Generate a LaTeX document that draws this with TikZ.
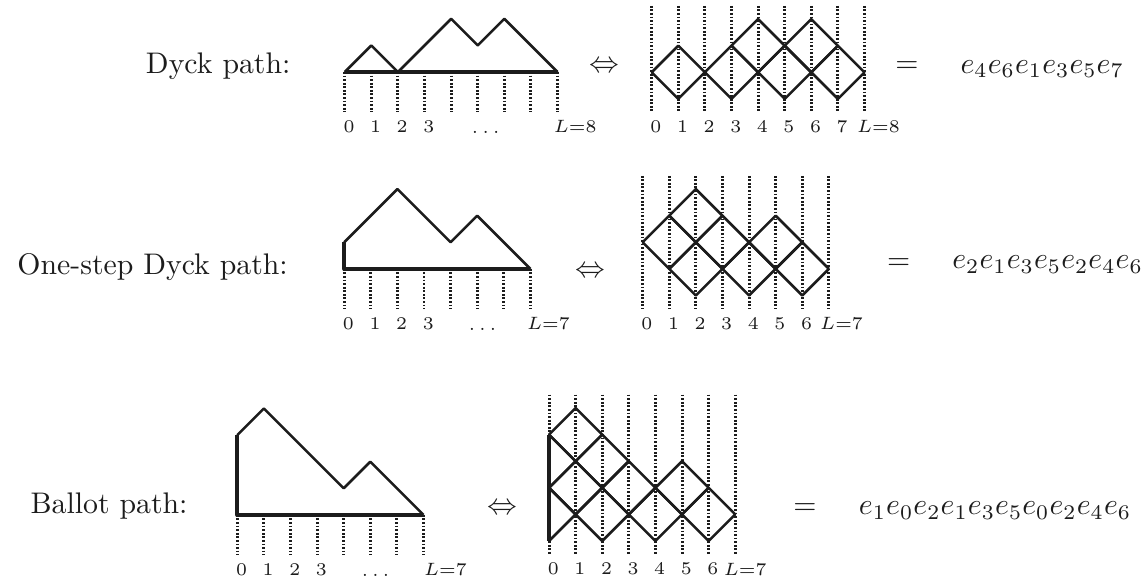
\documentclass[tikz,border=0pt]{standalone}
\usetikzlibrary{calc}
\newcommand{\Step}{8.93pt}
\newcommand{\Thin}{0.85pt}
\newcommand{\Thick}{1.3pt}
\definecolor{ink}{HTML}{1C1C1C}

\tikzset{
  walk/.style={ink,line width=\Thin},
  wall/.style={ink,line width=\Thick},
  tick/.style={ink,line width=1pt,line cap=butt,dash pattern=on 0.6pt off 0.6pt},
  site/.style={inner sep=0pt,text=ink,font=\fontsize{6}{7}\selectfont},
  caption/.style={inner sep=0pt,text=ink,anchor=base east},
  rel/.style={inner sep=0pt,text=ink,anchor=base},
  word/.style={inner sep=0pt,text=ink,anchor=base west},
}

\begin{document}
\begin{tikzpicture}[x=\Step,y=\Step, line join=round]
  \useasboundingbox (0,0) rectangle (43.008,21.729);

  % ---- row 1: Dyck path ---------------------------------------------------
  \node[caption] (dyck) at (10.94,18.97) {Dyck path:};
  \begin{scope}[shift={(12.96,19.02)}]
    \foreach \i in {0,...,8} \draw[tick] (\i,0) -- (\i,-1.5);
    \draw[walk] (0,0) -- (1,1) -- (2,0) -- (4,2) -- (5,1) -- (6,2) -- (8,0);
    \draw[wall] (0,0) -- (8,0);
    \foreach \i in {0,...,3} \node[site] (da\i) at (\i+0.16,-2.05) {$\i$};
    \node[site,anchor=base] (dadots) at (5.3,-2.3) {$\ldots$};
    \node[site,anchor=west] (daL) at (7.84,-2.05) {$L{=}8$};
  \end{scope}
  \node[rel] (iffa) at (22.71,19.0) {$\Leftrightarrow$};
  \begin{scope}[shift={(24.50,19.01)}]
    \foreach \i in {0,...,8} \draw[tick] (\i,2.5) -- (\i,-1.5);
    \foreach \c/\l in {1/0,3/0,5/0,7/0,4/1,6/1}
      \draw[walk] (\c-1,\l) -- (\c,\l+1) -- (\c+1,\l) -- (\c,\l-1) -- cycle;
    \foreach \i in {0,...,7} \node[site] (db\i) at (\i+0.16,-2.05) {$\i$};
    \node[site,anchor=west] (dbL) at (7.7,-2.05) {$L{=}8$};
  \end{scope}
  \node[rel] (eqa) at (34.10,19.0) {$=$};
  \node[word] (worda) at (36.09,18.97) {$e_4e_6e_1e_3e_5e_7$};

  % ---- row 2: one-step Dyck path ------------------------------------------
  \node[caption] (onestep) at (10.84,11.39) {One-step Dyck path:};
  \begin{scope}[shift={(12.94,11.62)}]
    \foreach \i in {0,...,7} \draw[tick] (\i,0) -- (\i,-1.5);
    \draw[walk] (0,1) -- (2,3) -- (4,1) -- (5,2) -- (7,0);
    \draw[wall] (0,1) -- (0,0) -- (7,0);
    \foreach \i in {0,...,3} \node[site] (oa\i) at (\i+0.16,-2.05) {$\i$};
    \node[site,anchor=base] (oadots) at (5.2,-2.3) {$\ldots$};
    \node[site,anchor=west] (oaL) at (6.85,-2.05) {$L{=}7$};
  \end{scope}
  \node[rel] (iffb) at (22.2,11.3) {$\Leftrightarrow$};
  \begin{scope}[shift={(24.16,11.62)}]
    \foreach \i in {0,...,7} \draw[tick] (\i,3.5) -- (\i,-1.5);
    \foreach \c/\l in {2/0,4/0,6/0,1/1,3/1,5/1,2/2}
      \draw[walk] (\c-1,\l) -- (\c,\l+1) -- (\c+1,\l) -- (\c,\l-1) -- cycle;
    \foreach \i in {0,...,6} \node[site] (ob\i) at (\i+0.16,-2.05) {$\i$};
    \node[site,anchor=west] (obL) at (6.65,-2.05) {$L{=}7$};
  \end{scope}
  \node[rel] (eqb) at (33.79,11.6) {$=$};
  \node[word] (wordb) at (35.78,11.63) {$e_2e_1e_3e_5e_2e_4e_6$};

  % ---- row 3: ballot path, with the wall at 0 -----------------------------
  \node[caption,anchor=base west] (ballot) at (1.13,2.43) {Ballot path:};
  \begin{scope}[shift={(8.92,2.37)}]
    \foreach \i in {0,...,7} \draw[tick] (\i,0) -- (\i,-1.5);
    \draw[walk] (0,3) -- (1,4) -- (4,1) -- (5,2) -- (7,0);
    \draw[wall] (0,3) -- (0,0) -- (7,0);
    \foreach \i in {0,...,3} \node[site] (ba\i) at (\i+0.16,-2.05) {$\i$};
    \node[site,anchor=base] (badots) at (5.2,-2.3) {$\ldots$};
    \node[site,anchor=west] (baL) at (7.0,-2.05) {$L{=}7$};
  \end{scope}
  \node[rel] (iffc) at (18.89,2.4) {$\Leftrightarrow$};
  \begin{scope}[shift={(20.64,2.39)}]
    \foreach \i in {0,...,7} \draw[tick] (\i,4.5) -- (\i,-1.5);
    \foreach \c/\l in {2/0,4/0,6/0,1/1,3/1,5/1,2/2,1/3}
      \draw[walk] (\c-1,\l) -- (\c,\l+1) -- (\c+1,\l) -- (\c,\l-1) -- cycle;
    % half tiles against the wall
    \foreach \l in {0,2}
      \draw[walk] (0,\l+1) -- (1,\l) -- (0,\l-1);
    \draw[wall] (0,-1) -- (0,3);
    \foreach \i in {0,...,6} \node[site] (bb\i) at (\i+0.16,-2.05) {$\i$};
    \node[site,anchor=west] (bbL) at (6.55,-2.05) {$L{=}7$};
  \end{scope}
  \node[rel] (eqc) at (30.26,2.4) {$=$};
  \node[word] (wordc) at (32.27,2.37) {$e_1e_0e_2e_1e_3e_5e_0e_2e_4e_6$};

\end{tikzpicture}
\end{document}
